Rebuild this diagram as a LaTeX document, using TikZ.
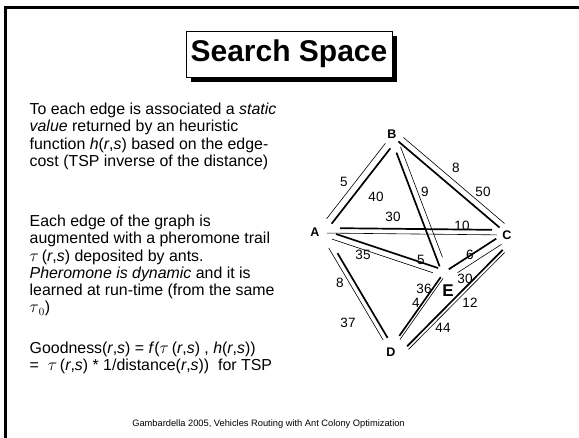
\documentclass[tikz,border=0pt]{standalone}
\usepackage{fontspec}
\setmainfont{Liberation Sans}
\usetikzlibrary{positioning,calc,shadows}

\tikzset{
  heavy/.style={line width=1.7pt},
  fine/.style={line width=0.6pt},
  trail/.style args={#1/#2/#3}{to path={
      ($(\tikztostart)!#2!(\tikztotarget)!#1!90:(\tikztotarget)$)
      -- ($(\tikztotarget)!#3!(\tikztostart)!#1!-90:(\tikztostart)$)}},
  city/.style={inner sep=0pt, font=\bfseries\fontsize{12.5}{14}\selectfont},
  weight/.style={inner sep=0pt, font=\fontsize{13.5}{15}\selectfont},
  para/.style={anchor=north west, align=left, inner sep=0pt},
}

\begin{document}
\begin{tikzpicture}[x=1pt, y=-1pt, font=\fontsize{15.9}{17.2}\selectfont]
  \useasboundingbox[fill=white] (0,0) rectangle (579,438);
  \draw[line width=3pt] (5,438) -- (5,8) -- (579,8);

  \node[draw, fill=white, line width=0.8pt, minimum width=206pt, minimum height=46pt,
        drop shadow={fill=black, opacity=1, shadow xshift=4.5pt, shadow yshift=-5.5pt},
        font=\bfseries\fontsize{30}{34}\selectfont] (title) at (289,54) {Search Space};

  \node[para] (static) at (29.5,103) {To each edge is associated a \textit{static}\\
    \textit{value} returned by an heuristic\\
    function \textit{h}(\textit{r},\textit{s}) based on the edge-\\
    cost (TSP inverse of the distance)};
  \node[para] (trailtext) at (29.5,215) {Each edge of the graph is\\
    augmented with a pheromone trail\\
    $\tau\,$(\textit{r},\textit{s}) deposited by ants.\\
    \textit{Pheromone is dynamic} and it is\\
    learned at run-time (from the same\\
    $\tau_{\,0}$)};
  \node[para] (goodness) at (29.5,341.5) {Goodness(\textit{r},\textit{s}) = \textit{f}($\tau\,$(\textit{r},\textit{s}) , \textit{h}(\textit{r},\textit{s}))\\
    =\ \ $\tau\,$(\textit{r},\textit{s}) * 1/distance(\textit{r},\textit{s}))\ \ for TSP};
  \node[anchor=base, inner sep=0pt, font=\fontsize{9.3}{11}\selectfont] (credit) at (268.5,427)
    {Gambardella 2005, Vehicles Routing with Ant Colony Optimization};

  % the graph
  \coordinate (va) at (321,232);
  \coordinate (vb) at (395,137);
  \coordinate (vc) at (509,234);
  \coordinate (vd) at (392,352);
  \coordinate (ve) at (447,274);
  \node[city] (A) at (315,232) {A};
  \node[city] (B) at (392,134) {B};
  \node[city] (C) at (507,235) {C};
  \node[city] (D) at (391,352) {D};
  \node[city, font=\bfseries\fontsize{17}{19}\selectfont] (E) at (448,291) {E};

  \foreach \src/\dst/\off/\ca/\cb in {va/vb/-3.3/13.1/11.8, va/vc/4/19/17, vb/vc/-1.2/5.5/11.4,
      vb/ve/-4.2/15.1/9.7, va/ve/2.85/14.9/10.4, vc/ve/-3/13.3/4.1, vc/vd/6.7/15.6/14.8,
      vd/ve/3.3/17.4/6.2, va/vd/3.4/26.6/14.4}
    \draw[heavy] (\src) to[trail=\off pt/\ca pt/\cb pt] (\dst);
  \foreach \src/\dst/\off/\ca/\cb in {va/vb/3.7/14/10.9, va/vc/-1/6/12, vb/vc/5.1/6.7/10.2,
      vb/ve/1.7/11.1/17.3, va/ve/-3.3/12.9/13.9, vc/ve/4.6/11.8/9.5, vc/vd/9.9/16.3/13.4,
      vd/ve/0.7/14.7/5.8, va/vd/-1.5/17.7/14.8}
    \draw[fine] (\src) to[trail=\off pt/\ca pt/\cb pt] (\dst);

  \foreach \w/\x/\y [count=\i] in {5/344/182, 40/376/197, 30/393/217, 9/425/192, 8/456/168,
      50/483/192, 10/462/226, 35/363/255, 5/421/260, 6/470/255, 30/465/279, 36/424/289,
      4/416/303, 12/470/303, 44/443/328, 8/340/283, 37/348/323}
    \node[weight] (w\i) at (\x,\y) {\w};
\end{tikzpicture}
\end{document}
